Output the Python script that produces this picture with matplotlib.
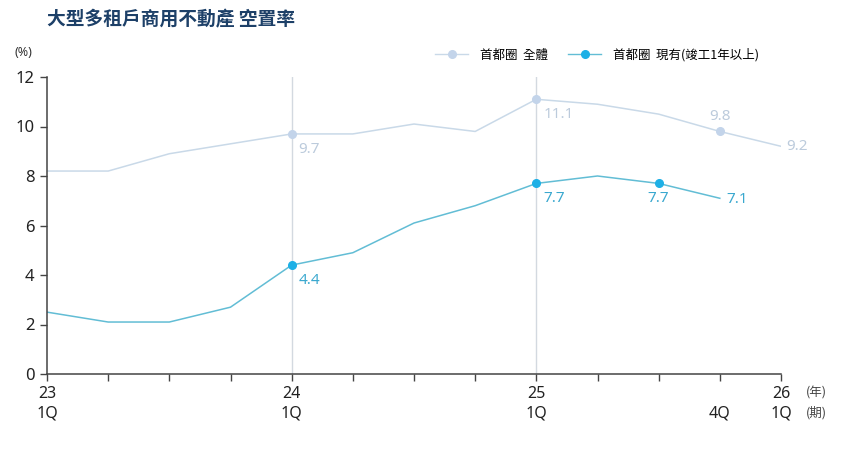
import matplotlib
matplotlib.use("Agg")
import matplotlib.pyplot as plt
from matplotlib.lines import Line2D

plt.rcParams['font.family'] = ['Noto Sans', 'Noto Sans CJK TC', 'DejaVu Sans']

title = "大型多租戶商用不動產 空置率"
series_names = ["首都圈  全體", "首都圈  現有(竣工1年以上)"]
quarters = list(range(13))
total = [8.2, 8.2, 8.9, 9.3, 9.7, 9.7, 10.1, 9.8, 11.1, 10.9, 10.5, 9.8, 9.2]
existing = [2.5, 2.1, 2.1, 2.7, 4.4, 4.9, 6.1, 6.8, 7.7, 8.0, 7.7, 7.1]
tick_pos = [0, 4, 8, 11, 12]
tick_labels = ["23\n1Q", "24\n1Q", "25\n1Q", "\n4Q", "26\n1Q"]
vlines = [4, 8]
total_marks = [4, 8, 11]
existing_marks = [4, 8, 10]

c_total_line = "#c9d9e8"
c_total_mark = "#c3d4ea"
c_total_text = "#bccbdc"
c_ex_line = "#62bdd5"
c_ex_mark = "#1eb0e6"
c_ex_text = "#3aa8cf"

fig = plt.figure(figsize=(8.47, 4.49), dpi=100)
ax = fig.add_axes([47/847, 1-374/449, (781-47)/847, (374-77)/449])

for v in vlines:
    ax.axvline(v, color="#d3d9e0", lw=1, zorder=1)

ax.plot(quarters, total, color=c_total_line, lw=1.1, zorder=2)
ax.plot(quarters[:len(existing)], existing, color=c_ex_line, lw=1.1, zorder=2)
ax.plot([quarters[i] for i in total_marks], [total[i] for i in total_marks], 'o',
        color=c_total_mark, ms=5.5, zorder=3)
ax.plot([quarters[i] for i in existing_marks], [existing[i] for i in existing_marks], 'o',
        color=c_ex_mark, ms=5.5, zorder=3)

lab_fs = 11
def lab(x, y, s, color, dx, dy, ha='left', va='center'):
    ax.annotate(s, (x, y), xytext=(dx, dy), textcoords='offset points',
                color=color, fontsize=lab_fs, ha=ha, va=va)

lab(4, total[4], f"{total[4]}", c_total_text, 5, -11)
lab(8, total[8], f"{total[8]}", c_total_text, 5, -11)
lab(11, total[11], f"{total[11]}", c_total_text, 0, 11, ha='center')
lab(12, total[12], f"{total[12]}", c_total_text, 4, 0)
lab(4, existing[4], f"{existing[4]}", c_ex_text, 5, -11)
lab(8, existing[8], f"{existing[8]}", c_ex_text, 5, -11)
lab(10, existing[10], f"{existing[10]}", c_ex_text, 0, -11, ha='center')
lab(11, existing[11], f"{existing[11]}", c_ex_text, 5, -1)

ax.set_xlim(0, 12)
ax.set_ylim(0, 12)
ax.set_yticks(range(0, 13, 2))
ax.set_xticks(range(13))
ax.set_xticklabels(["" for _ in range(13)])
for p, t in zip(tick_pos, tick_labels):
    ax.text(p, -0.5, t, ha='center', va='top', fontsize=11.5, linespacing=1.25,
            transform=ax.transData, color="#222222")
ax.text(12.4, -0.5, "(年)\n(期)", ha='left', va='top', fontsize=9, linespacing=1.6,
        color="#444444", family=['Noto Sans CJK TC', 'DejaVu Sans'])

for s in ['top', 'right']:
    ax.spines[s].set_visible(False)
for s in ['left', 'bottom']:
    ax.spines[s].set_color("#444444")
    ax.spines[s].set_linewidth(1.1)
ax.tick_params(axis='both', direction='out', length=5, width=1, color="#444444",
               labelsize=12, labelcolor="#222222")
ax.tick_params(axis='y', pad=4)

fig.text(47/847, 1-20/449, title, fontsize=13.5, color="#1d4068", va='center', ha='left',
         weight='bold', family=['Noto Sans CJK TC', 'DejaVu Sans'])
fig.text(14/847, 1-52/449, "(%)", fontsize=9, color="#333333", va='center', ha='left')

handles = [
    Line2D([0], [0], color=c_total_line, lw=1, marker='o', ms=5.5, mfc=c_total_mark, mec=c_total_mark),
    Line2D([0], [0], color=c_ex_line, lw=1, marker='o', ms=5.5, mfc=c_ex_mark, mec=c_ex_mark),
]
leg = fig.legend(handles, series_names, loc='center left', bbox_to_anchor=(424/847, 1-55/449),
                 ncol=2, frameon=False, handlelength=2.6, columnspacing=1.6,
                 handletextpad=1.0, prop={'family': ['Noto Sans CJK TC', 'DejaVu Sans'],
                                          'size': 9, 'weight': 'medium'})

fig.savefig("out.png", dpi=100)
